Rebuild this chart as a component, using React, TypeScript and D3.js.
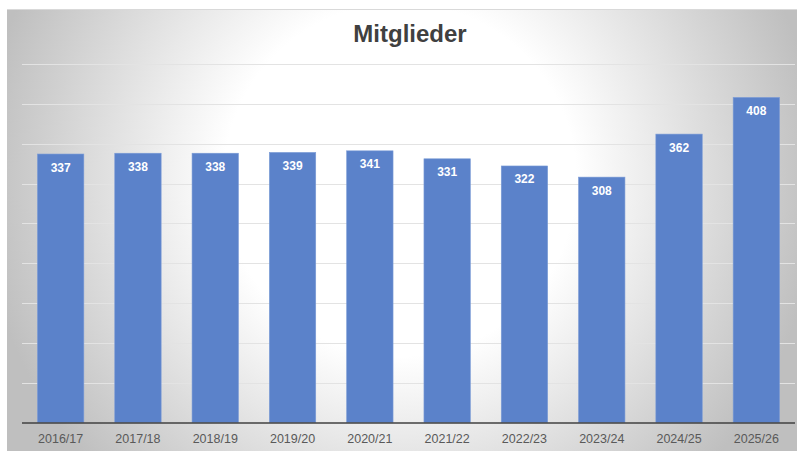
import React, { useEffect, useRef } from 'react';
import * as d3 from 'd3';

const seasons = ['2016/17', '2017/18', '2018/19', '2019/20', '2020/21', '2021/22', '2022/23', '2023/24', '2024/25', '2025/26'];
const members = [337, 338, 338, 339, 341, 331, 322, 308, 362, 408];
const gridTicks = [50, 100, 150, 200, 250, 300, 350, 400, 450];

const App = () => {
  const width = 797,
    height = 451,
    margin = { left: 22, top: 64, bottom: 28, right: 2 };

  const svgRef = useRef<SVGSVGElement>(null);

  const x = d3.scaleBand<string>()
    .domain(seasons)
    .range([margin.left, width - margin.right])
    .paddingInner(0.4)
    .paddingOuter(0.2);
  const y = d3.scaleLinear()
    .domain([0, 450])
    .range([height - margin.bottom - 0.5, margin.top]);

  useEffect(() => {
    const svg = d3.select(svgRef.current);
    svg.selectAll('*').remove();

    const defs = svg.append('defs');
    const grad = defs.append('radialGradient')
      .attr('id', 'bg')
      .attr('gradientUnits', 'userSpaceOnUse')
      .attr('cx', 400).attr('cy', 180).attr('r', 420);
    grad.append('stop').attr('offset', 0).attr('stop-color', '#ffffff');
    grad.append('stop').attr('offset', 0.42).attr('stop-color', '#ffffff');
    grad.append('stop').attr('offset', 1).attr('stop-color', '#bfbfbf');

    svg.append('rect')
      .attr('x', 7).attr('y', 9.5)
      .attr('width', width - 7).attr('height', height - 9.5)
      .attr('fill', 'url(#bg)');
    svg.append('line')
      .attr('x1', 7).attr('x2', width)
      .attr('y1', 9.5).attr('y2', 9.5)
      .attr('stroke', '#d9d9d9');

    // grid
    svg.append('g')
      .attr('stroke', '#e3e3e3')
      .attr('stroke-width', 1)
      .selectAll('line')
      .data(gridTicks)
      .join('line')
      .attr('x1', margin.left)
      .attr('x2', width - margin.right)
      .attr('y1', d => Math.round(y(d)) + 0.5)
      .attr('y2', d => Math.round(y(d)) + 0.5);

    svg.append('text')
      .attr('x', 410)
      .attr('y', 42)
      .attr('text-anchor', 'middle')
      .attr('font-family', 'Liberation Sans, Arial, sans-serif')
      .attr('font-weight', 'bold')
      .attr('font-size', 24)
      .attr('fill', '#404040')
      .text('Mitglieder');

    svg.append('g')
      .selectAll('rect')
      .data(members)
      .join('rect')
      .attr('x', (d, i) => x(seasons[i])!)
      .attr('y', d => y(d))
      .attr('width', x.bandwidth())
      .attr('height', d => y(0) - y(d))
      .attr('fill', '#5b82ca')
      .attr('stroke', '#7b9bd6')
      .attr('stroke-width', 0.6);

    svg.append('g')
      .attr('font-family', 'Liberation Sans, Arial, sans-serif')
      .attr('font-weight', 'bold')
      .attr('font-size', 12)
      .attr('fill', '#ffffff')
      .attr('text-anchor', 'middle')
      .selectAll('text')
      .data(members)
      .join('text')
      .attr('x', (d, i) => x(seasons[i])! + x.bandwidth() / 2)
      .attr('y', d => y(d) + 17.5)
      .text(d => d);

    // baseline
    svg.append('line')
      .attr('x1', margin.left)
      .attr('x2', width - margin.right)
      .attr('y1', y(0) + 0.5)
      .attr('y2', y(0) + 0.5)
      .attr('stroke', '#404040')
      .attr('stroke-width', 1.5);

    svg.append('g')
      .attr('font-family', 'Liberation Sans, Arial, sans-serif')
      .attr('font-size', 12.5)
      .attr('fill', '#595959')
      .attr('text-anchor', 'middle')
      .selectAll('text')
      .data(seasons)
      .join('text')
      .attr('x', d => x(d)! + x.bandwidth() / 2)
      .attr('y', 443)
      .text(d => d);
  }, []);

  return (
    <div style={{ position: 'absolute', left: 0, top: 0 }}>
      <svg ref={svgRef} width={width} height={height} style={{ display: 'block' }}></svg>
    </div>
  );
};

export default App;
